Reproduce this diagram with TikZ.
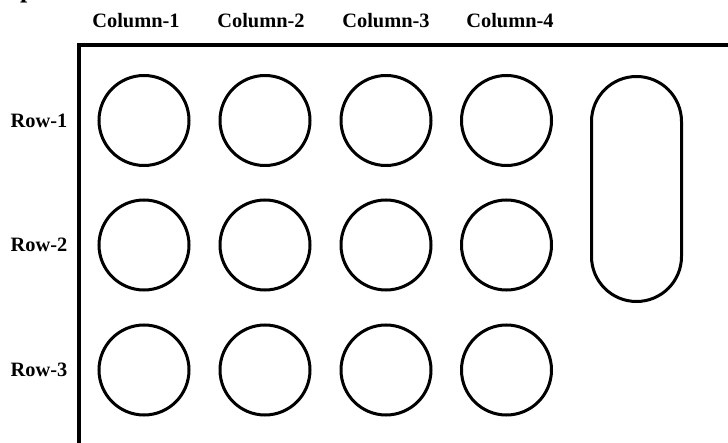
\documentclass[tikz,border=0pt]{standalone}
\usepackage{fontspec}
\setmainfont{Liberation Serif}
\usetikzlibrary{positioning}

\begin{document}
\begin{tikzpicture}[x=1pt,y=-1pt,
  hole/.style={draw=black, circle, line width=3pt, minimum size=90pt, inner sep=0pt},
  slot/.style={draw=black, rounded corners=45pt, line width=3pt, minimum width=90pt, minimum height=225pt, inner sep=0pt},
  lab/.style={font=\fontsize{20.4}{24}\selectfont\bfseries, inner sep=0pt}]
  \useasboundingbox (0,0) rectangle (728,443);
  % cut-off text at the top edge
  \node[anchor=base west, inner sep=0pt, font=\fontsize{26}{28}\selectfont\bfseries] (cut) at (20,-2.5) {p};
  % frame
  \coordinate (corner) at (79,45);
  \draw[line width=3.3pt] (79,443) -- (corner) -- (728,45);
  % holes
  \node[hole] (c11) at (144,120.5) {};
  \node[hole] (c12) at (265,120.5) {};
  \node[hole] (c13) at (386,120.5) {};
  \node[hole] (c14) at (506.5,120.5) {};
  \node[hole] (c21) at (144,245) {};
  \node[hole] (c22) at (265,245) {};
  \node[hole] (c23) at (386,245) {};
  \node[hole] (c24) at (506.5,245) {};
  \node[hole] (c31) at (144,370) {};
  \node[hole] (c32) at (265,370) {};
  \node[hole] (c33) at (386,370) {};
  \node[hole] (c34) at (506.5,370) {};
  \node[slot] (oval) at (636.5,189) {};
  % column labels
  \node[lab, anchor=base] (col1) at (136,27.3) {Column-1};
  \node[lab, anchor=base] (col2) at (261,27.3) {Column-2};
  \node[lab, anchor=base] (col3) at (386,27.3) {Column-3};
  \node[lab, anchor=base] (col4) at (510,27.3) {Column-4};
  % row labels
  \node[lab, left=30pt of c11] (row1) {Row-1};
  \node[lab, left=30pt of c21] (row2) {Row-2};
  \node[lab, left=30pt of c31] (row3) {Row-3};
\end{tikzpicture}
\end{document}
